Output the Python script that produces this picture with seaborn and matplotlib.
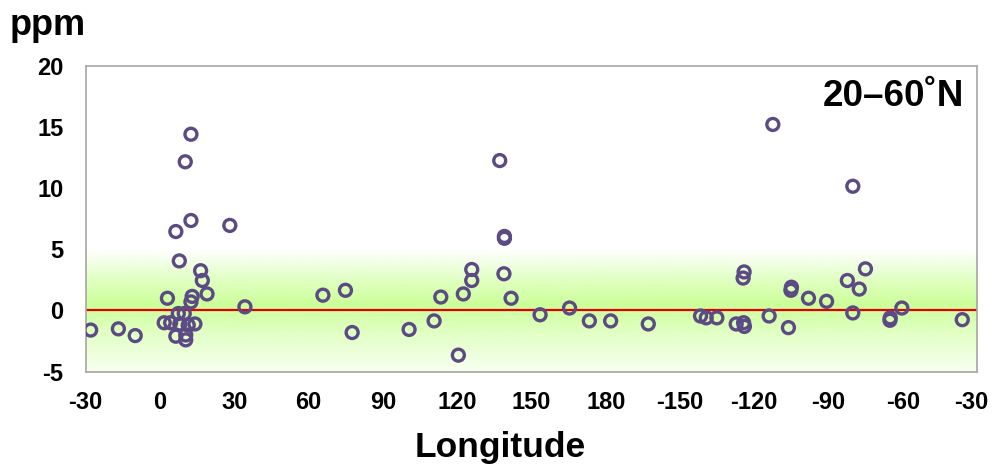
import numpy as np
import pandas as pd
import seaborn as sns
import matplotlib.pyplot as plt
from matplotlib.transforms import ScaledTranslation

# longitude, shifted to 0..360 so the Pacific stays in one piece (-30 -> 330)
lon = [-28, -16.8, -10, 3, 1.7, 4.3, 6.4, 7.8, 10.2, 12.5, 12.5, 28.2, 16.4, 17.1, 19,
       13, 12.5, 7.4, 9.8, 6.4, 10.4, 10.4, 8, 11.4, 14.1, 34.3, 65.8, 74.9, 77.6,
       100.6, 110.7, 113.4, 120.5, 122.5, 125.9, 125.9, 137.2, 139.1, 139.1, 138.9, 141.8,
       153.5, 165.4, 173.4, 182,
       197.2, 218.3, 220.6, 224.9, 232.7, 235.7, 236, 235.9, 235.5, 247.5, 246, 253.8,
       255, 254.8, 261.9, 269.2, 277.6, 279.8, 282.4, 284.9, 279.8, 294.8, 294.9, 299.6, 324]
ppm = [-1.6, -1.5, -2.05, 1.0, -1.0, -1.0, 6.45, 4.05, 12.15, 14.4, 7.35, 6.95, 3.25, 2.45, 1.35,
       1.15, 0.7, -0.25, -0.25, -2.1, -2.4, -2.0, -1.1, -1.2, -1.1, 0.3, 1.25, 1.65, -1.8,
       -1.55, -0.85, 1.1, -3.65, 1.35, 3.35, 2.45, 12.25, 6.05, 5.9, 3.0, 1.0,
       -0.35, 0.2, -0.85, -0.85,
       -1.1, -0.45, -0.6, -0.6, -1.1, -1.0, -1.3, 3.15, 2.65, 15.2, -0.45, -1.4,
       1.9, 1.65, 1.0, 0.75, 2.45, 10.15, 1.75, 3.4, -0.2, -0.8, -0.6, 0.2, -0.75]

xticks = list(range(-30, 331, 30))
xlabels = ["-30", "0", "30", "60", "90", "120", "150", "180",
           "-150", "-120", "-90", "-60", "-30"]
yticks = [-5, 0, 5, 10, 15, 20]

df = pd.DataFrame({"lon": lon, "ppm": ppm})

sns.set_style("white")
plt.rcParams["font.family"] = ["Liberation Sans", "DejaVu Sans"]
plt.rcParams["axes.unicode_minus"] = False
plt.rcParams["text.color"] = "black"

fig = plt.figure(figsize=(9.92, 4.66), dpi=100)
ax = fig.add_axes([0.0864, 0.2024, 0.8986, 0.6566])

# green band around zero
yy = np.linspace(5, -5, 200)
a = np.interp(yy, [-5, -2, 0.5, 2.5, 5], [0.15, 0.55, 1.0, 0.6, 0.0])
img = np.ones((200, 1, 4))
img[:, 0, :3] = [0.80, 1.0, 0.60]
img[:, 0, 3] = a
ax.imshow(img, extent=[-30, 330, -5, 5], aspect="auto", zorder=0)

ax.axhline(0, color="#e00000", lw=1.6, zorder=1)

sns.scatterplot(data=df, x="lon", y="ppm", ax=ax, s=74, marker="o",
                facecolor="none", edgecolor="#5c4a84", linewidth=2.4, zorder=3)

ax.set_xlim(-30, 330)
ax.set_ylim(-5, 20)
ax.set_xticks(xticks)
ax.set_xticklabels(xlabels)
ax.set_yticks(yticks)
for sp in ax.spines.values():
    sp.set_color("#a6a6a6")
    sp.set_linewidth(1.2)
ax.tick_params(axis="both", direction="out", length=6, width=1.2, color="#a6a6a6",
               labelsize=17, labelcolor="black")
ax.tick_params(axis="x", pad=8)
ax.tick_params(axis="y", pad=10)
for t in ax.get_xticklabels() + ax.get_yticklabels():
    t.set_fontweight("bold")
# last label nudged left so it stays inside the picture
last = ax.get_xticklabels()[-1]
last.set_transform(last.get_transform() + ScaledTranslation(-0.06, 0, fig.dpi_scale_trans))

ax.set_xlabel("")
ax.set_ylabel("")
fig.text(500 / 992, 0.02, "Longitude", fontsize=25.5, fontweight="bold",
         ha="center", va="baseline")
fig.text(0.01, 0.925, "ppm", fontsize=26, fontweight="bold", ha="left", va="baseline")
ax.text(0.985, 0.955, "20\u201360\u02daN", transform=ax.transAxes, fontsize=26.5,
        fontweight="bold", ha="right", va="top")

fig.savefig("out.png", dpi=100)
